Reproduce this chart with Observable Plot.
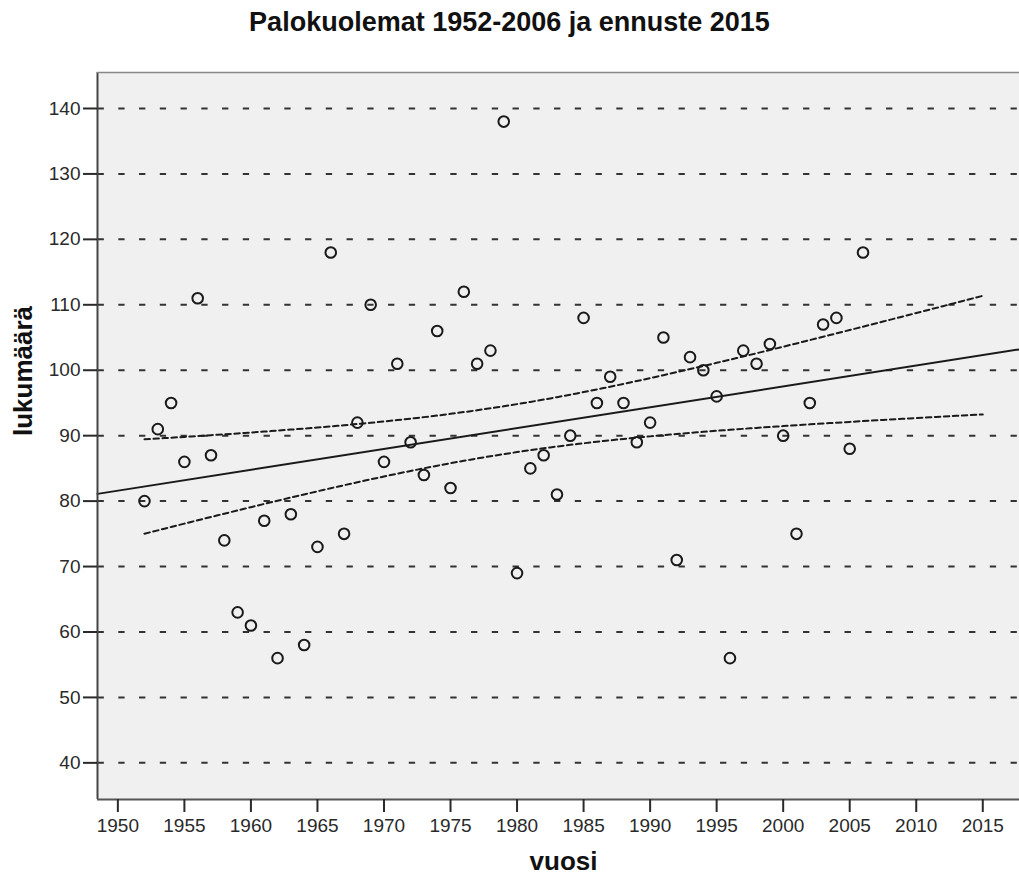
<!DOCTYPE html>
<html><head><meta charset="utf-8">
<script src="https://cdn.jsdelivr.net/npm/d3@7"></script>
<script src="https://cdn.jsdelivr.net/npm/@observablehq/plot@0.6"></script>
<style>
body{margin:0;background:#fff;overflow:hidden;font-family:"Liberation Sans",Arial,sans-serif;}
#title{width:1019px;height:50px;box-sizing:border-box;padding-top:9px;line-height:27px;font-size:27px;font-weight:bold;text-align:center;color:#111;}
</style></head><body>
<div id="title">Palokuolemat 1952-2006 ja ennuste 2015</div>
<div id="chart"></div>
<script>
const years = [1952,1953,1954,1955,1956,1957,1958,1959,1960,1961,
  1962,1963,1964,1965,1966,1967,1968,1969,1970,1971,
  1972,1973,1974,1975,1976,1977,1978,1979,1980,1981,
  1982,1983,1984,1985,1986,1987,1988,1989,1990,1991,
  1992,1993,1994,1995,1996,1997,1998,1999,2000,2001,
  2002,2003,2004,2005,2006];
const deaths = [80,91,95,86,111,87,74,63,61,77,
  56,78,58,73,118,75,92,110,86,101,
  89,84,106,82,112,101,103,138,69,85,
  87,81,90,108,95,99,95,89,92,105,
  71,102,100,96,56,103,101,104,90,75,
  95,107,108,88,118];
const xTicks = [1950,1955,1960,1965,1970,1975,1980,1985,1990,1995,2000,2005,2010,2015];
const yTicks = [40,50,60,70,80,90,100,110,120,130,140];
const forecastYear = 2015;
const tCrit = 1.674; // t(0.95, df = 53): 90% confidence band for the mean

const points = years.map((yr, i) => ({year: yr, value: deaths[i]}));

// least-squares fit and mean confidence band, derived from the data
const n = points.length;
const xbar = d3.mean(years), ybar = d3.mean(deaths);
const Sxx = d3.sum(years, x => (x - xbar) ** 2);
const Sxy = d3.sum(points, d => (d.year - xbar) * (d.value - ybar));
const b = Sxy / Sxx, a = ybar - b * xbar;
const sse = d3.sum(points, d => (d.value - (a + b * d.year)) ** 2);
const s = Math.sqrt(sse / (n - 2));
const fit = x => a + b * x;
const half = x => tCrit * s * Math.sqrt(1 / n + (x - xbar) ** 2 / Sxx);

const xDomain = [1948.47, 2017.76];
const yDomain = [34.4, 145.5];

const fitLine = xDomain.map(x => ({x, y: fit(x)}));
const ciXs = d3.range(years[0], forecastYear + 0.001, 0.5);
const ciUpper = ciXs.map(x => ({x, y: fit(x) + half(x)}));
const ciLower = ciXs.map(x => ({x, y: fit(x) - half(x)}));

const chart = Plot.plot({
  width: 1019,
  height: 826,
  marginTop: 22,
  marginBottom: 77,
  marginLeft: 97,
  marginRight: 0,
  x: {domain: xDomain},
  y: {domain: yDomain},
  style: {fontFamily: "Liberation Sans, Arial, sans-serif", fontSize: "19px", color: "#2a2a2a", background: "white", overflow: "visible"},
  marks: [
    Plot.frame({fill: "#f0f0f0", stroke: "none"}),
    Plot.ruleY(yTicks, {stroke: "#333", strokeWidth: 2, strokeDasharray: "6.3,14.45", strokeDashoffset: 20.2}),
    Plot.line(fitLine, {x: "x", y: "y", stroke: "#1a1a1a", strokeWidth: 2}),
    Plot.line(ciUpper, {x: "x", y: "y", stroke: "#1a1a1a", strokeWidth: 2, strokeDasharray: "5.5,3.5"}),
    Plot.line(ciLower, {x: "x", y: "y", stroke: "#1a1a1a", strokeWidth: 2, strokeDasharray: "5.5,3.5"}),
    Plot.dot(points, {x: "year", y: "value", r: 5.3, stroke: "#1a1a1a", strokeWidth: 2, fill: "none"}),
    Plot.ruleX([xDomain[0]], {stroke: "#444", strokeWidth: 2}),
    Plot.ruleY([yDomain[1]], {stroke: "#888", strokeWidth: 1.5}),
    Plot.ruleY([yDomain[0]], {stroke: "#555", strokeWidth: 2}),
    Plot.axisY({ticks: yTicks, tickSize: 14, tickPadding: 3, tickFormat: d => String(d), fontSize: 19, strokeWidth: 2, label: null}),
    Plot.axisX({ticks: xTicks, tickSize: 13, tickPadding: 6, tickFormat: d => String(d), fontSize: 19, strokeWidth: 2, label: null}),
    Plot.text(["vuosi"], {text: d => d, frameAnchor: "bottom", dx: 5, dy: 70, lineAnchor: "bottom", fontSize: 26, fontWeight: "bold", fill: "#111"}),
    Plot.text(["lukumäärä"], {text: d => d, frameAnchor: "left", dx: -74, rotate: -90, fontSize: 26, fontWeight: "bold", fill: "#111"})
  ]
});
document.getElementById("chart").appendChild(chart);
</script>
</body></html>
